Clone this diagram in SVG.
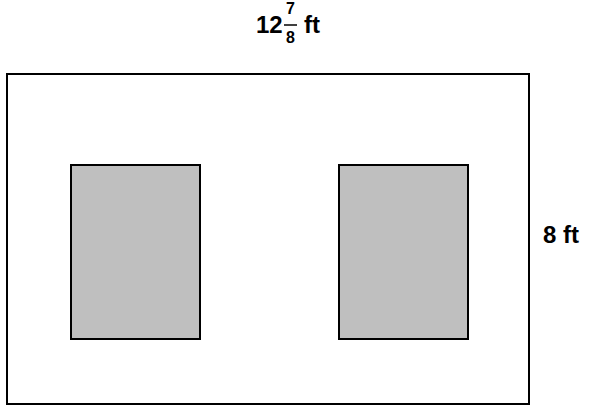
<svg xmlns="http://www.w3.org/2000/svg" width="589" height="411" viewBox="0 0 589 411">
<style>
.lbl{font-family:"Liberation Sans",Arial,sans-serif;font-weight:bold;fill:#000}
.box{fill:#bfbfbf;stroke:#000;stroke-width:2}
</style>
<rect width="589" height="411" fill="#fff"/>
<g id="outer"><rect x="7" y="74" width="522" height="330" fill="none" stroke="#000" stroke-width="2"/></g>
<g id="left-box"><rect class="box" x="71" y="165" width="129" height="174"/></g>
<g id="right-box"><rect class="box" x="339" y="165" width="129" height="174"/></g>
<g id="width-label">
<text class="lbl" x="256" y="33" font-size="24">12</text>
<text class="lbl" x="290.5" y="14" font-size="16" text-anchor="middle">7</text>
<line x1="284" y1="25" x2="297" y2="25" stroke="#000" stroke-width="1.5"/>
<text class="lbl" x="290.5" y="43" font-size="16" text-anchor="middle">8</text>
<text class="lbl" x="304" y="33" font-size="24">ft</text>
</g>
<g id="height-label"><text class="lbl" x="543" y="243" font-size="24">8 ft</text></g>
</svg>
